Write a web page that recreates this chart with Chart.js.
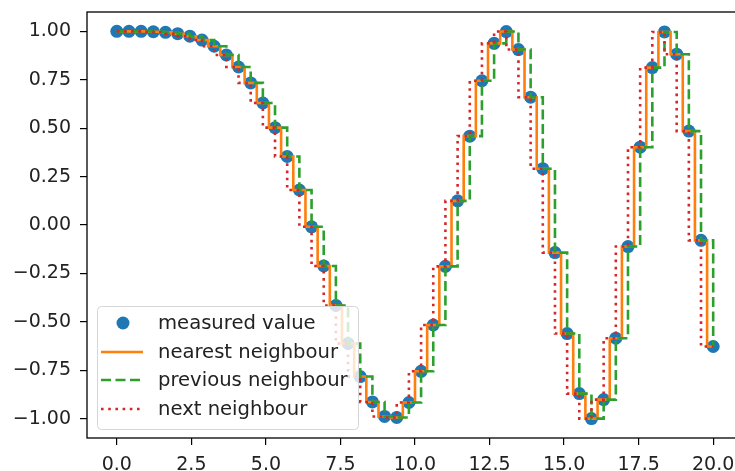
<!DOCTYPE html>
<html>
<head>
<meta charset="utf-8">
<script src="https://cdn.jsdelivr.net/npm/chart.js@4.4.0/dist/chart.umd.min.js"></script>
<style>
html, body { margin: 0; padding: 0; background: #fff; overflow: hidden; }
#wrap { position: relative; width: 760px; height: 471px; }
</style>
</head>
<body>
<div id="wrap"><canvas id="plot"></canvas></div>
<script>
// measured points
const xs = [0, 0.408, 0.816, 1.224, 1.633, 2.041, 2.449, 2.857, 3.265, 3.673,
  4.082, 4.490, 4.898, 5.306, 5.714, 6.122, 6.531, 6.939, 7.347, 7.755,
  8.163, 8.571, 8.980, 9.388, 9.796, 10.204, 10.612, 11.020, 11.429, 11.837,
  12.245, 12.653, 13.061, 13.469, 13.878, 14.286, 14.694, 15.102, 15.510, 15.918,
  16.327, 16.735, 17.143, 17.551, 17.959, 18.367, 18.776, 19.184, 19.592, 20]
const ys = [1.000, 1.000, 1.000, 0.998, 0.995, 0.988, 0.975, 0.955, 0.923, 0.878,
  0.816, 0.734, 0.630, 0.503, 0.354, 0.181, -0.009, -0.211, -0.415, -0.611,
  -0.782, -0.913, -0.988, -0.993, -0.916, -0.755, -0.516, -0.213, 0.125, 0.459,
  0.745, 0.938, 0.999, 0.906, 0.660, 0.291, -0.142, -0.560, -0.870, -0.999,
  -0.901, -0.584, -0.111, 0.402, 0.813, 0.997, 0.882, 0.485, -0.079, -0.627]

const xTicks = [0, 2.5, 5, 7.5, 10, 12.5, 15, 17.5, 20]
const yTicks = [-1, -0.75, -0.5, -0.25, 0, 0.25, 0.5, 0.75, 1]
const names = ['measured value', 'nearest neighbour', 'previous neighbour', 'next neighbour']
const colors = ['#1f77b4', '#ff7f0e', '#2ca02c', '#d62728']

const pts = xs.map((x, i) => ({x: x, y: ys[i]}))

Chart.defaults.font.family = 'DejaVu Sans'
Chart.defaults.font.size = 19
Chart.defaults.color = '#222'

// matplotlib style legend inside the axes, lower left
const boxLegend = {
  id: 'boxLegend',
  afterDatasetsDraw(chart) {
    const ctx = chart.ctx
    const a = chart.chartArea
    const x0 = a.left + 10, y1 = a.bottom - 9
    const w = 261, h = 123, y0 = y1 - h
    ctx.save()
    ctx.beginPath()
    ctx.roundRect(x0 + 0.5, y0 + 0.5, w, h, 4)
    ctx.fillStyle = 'rgba(255,255,255,0.8)'
    ctx.fill()
    ctx.strokeStyle = '#d6d6d6'
    ctx.lineWidth = 1
    ctx.stroke()
    const rows = [17, 46, 74, 103]
    chart.data.datasets.forEach((ds, i) => {
      const y = y0 + rows[i]
      if (i === 0) {
        ctx.beginPath()
        ctx.arc(x0 + 26, y, 6.5, 0, Math.PI * 2)
        ctx.fillStyle = ds.backgroundColor
        ctx.fill()
      } else {
        ctx.beginPath()
        ctx.setLineDash(ds.borderDash || [])
        ctx.moveTo(x0 + 4, y)
        ctx.lineTo(x0 + 46, y)
        ctx.strokeStyle = ds.borderColor
        ctx.lineWidth = ds.borderWidth
        ctx.stroke()
        ctx.setLineDash([])
      }
      ctx.fillStyle = '#222'
      ctx.font = '19.6px "DejaVu Sans"'
      ctx.textBaseline = 'middle'
      ctx.fillText(ds.label, x0 + 61, y + 1)
    })
    ctx.restore()
  },
  afterDraw(chart) {
    const ctx = chart.ctx
    const a = chart.chartArea
    ctx.save()
    ctx.strokeStyle = '#000'
    ctx.lineWidth = 1.3
    ctx.strokeRect(a.left, a.top, a.right - a.left, a.bottom - a.top)
    ctx.restore()
  }
}

new Chart(document.getElementById('plot'), {
  type: 'scatter',
  data: {
    datasets: [
      {label: names[0], data: pts, showLine: false, pointRadius: 6.5, pointHoverRadius: 6.5,
        backgroundColor: colors[0], borderColor: colors[0], borderWidth: 0, order: 4},
      {label: names[1], data: pts, showLine: true, stepped: 'middle', pointRadius: 0,
        borderColor: colors[1], backgroundColor: colors[1], borderWidth: 2.6, order: 3},
      {label: names[2], data: pts, showLine: true, stepped: 'before', pointRadius: 0,
        borderColor: colors[2], backgroundColor: colors[2], borderWidth: 2.6, borderDash: [10, 4.5], order: 2},
      {label: names[3], data: pts, showLine: true, stepped: 'after', pointRadius: 0,
        borderColor: colors[3], backgroundColor: colors[3], borderWidth: 2.6, borderDash: [2.6, 4.6], order: 1}
    ]
  },
  options: {
    animation: false,
    responsive: true,
    maintainAspectRatio: false,
    devicePixelRatio: 1,
    layout: {padding: {top: 12, right: 17, left: 0, bottom: 0}},
    plugins: {legend: {display: false}, tooltip: {enabled: false}},
    scales: {
      x: {
        type: 'linear', min: -1, max: 21,
        afterBuildTicks: s => { s.ticks = xTicks.map(v => ({value: v})) },
        afterFit: s => { s.height = 33; s.paddingLeft = 0; s.paddingRight = 0 },
        grid: {display: true, drawOnChartArea: false, drawTicks: true, tickLength: 7, color: '#000', lineWidth: 1.2},
        border: {display: false},
        ticks: {padding: 9, maxRotation: 0, autoSkip: false, callback: v => v.toFixed(1)}
      },
      y: {
        type: 'linear', min: -1.0992, max: 1.0999,
        afterBuildTicks: s => { s.ticks = yTicks.map(v => ({value: v})) },
        afterFit: s => { s.width = 87; s.paddingTop = 0; s.paddingBottom = 0 },
        grid: {display: true, drawOnChartArea: false, drawTicks: true, tickLength: 7, color: '#000', lineWidth: 1.2},
        border: {display: false},
        ticks: {padding: 9, autoSkip: false, callback: v => v.toFixed(2).replace('-', '\u2212')}
      }
    }
  },
  plugins: [boxLegend]
})
</script>
</body>
</html>
